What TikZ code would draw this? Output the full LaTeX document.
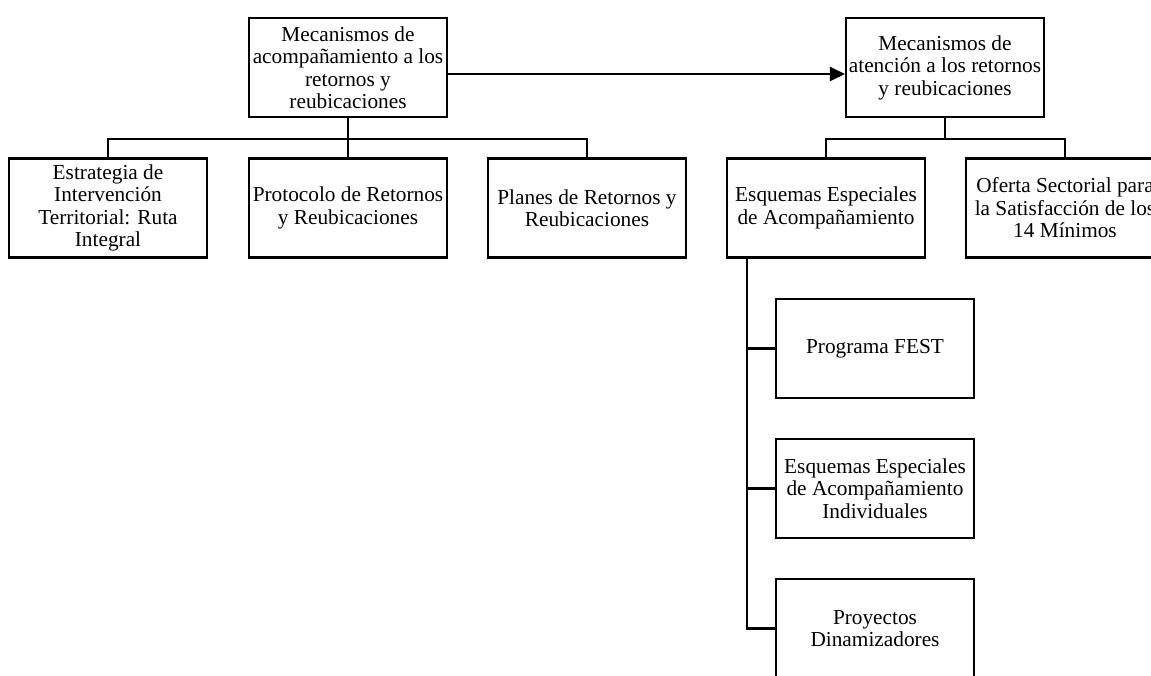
\documentclass[tikz,border=0pt]{standalone}
\usepackage{fontspec}
\setmainfont{Liberation Serif}
\usepackage{tikz}
\usetikzlibrary{arrows.meta}

\begin{document}
\begin{tikzpicture}[x=1pt,y=-1pt,
  caja/.style={draw,line width=2.1pt,minimum width=198pt,minimum height=99pt,
    inner sep=1pt,align=center,font=\fontsize{21.3}{22.5}\selectfont},
  rama/.style={line width=2.1pt}]
\clip (0,0) rectangle (1151,675);

\node [caja] (acomp) at (348,67.5) {Mecanismos de\\acompañamiento a los\\retornos y\\reubicaciones};
\node [caja] (atencion) at (945,67.5) {Mecanismos de\\atención a los retornos\\y reubicaciones};

\node [caja] (estrategia) at (108,208) {Estrategia de\\Intervención\\Territorial: Ruta\\Integral};
\node [caja] (protocolo) at (348,208) {Protocolo de Retornos\\y Reubicaciones};
\node [caja] (planes) at (587,208) {Planes de Retornos y\\Reubicaciones};
\node [caja] (esquemas) at (826,208) {Esquemas Especiales\\de Acompañamiento};
\node [caja] (oferta) at (1065,208) {Oferta Sectorial para\\la Satisfacción de los\\14 Mínimos};

\node [caja] (fest) at (875,348.5) {Programa FEST};
\node [caja] (individuales) at (875,488.5) {Esquemas Especiales\\de Acompañamiento\\Individuales};
\node [caja] (proyectos) at (875,628.5) {Proyectos\\Dinamizadores};

\draw [rama,-{Triangle[length=15pt,width=14pt]}] ([yshift=-6.5pt]acomp.east) -- ([yshift=-6.5pt]atencion.west);

\foreach \hijo in {estrategia,protocolo,planes}
  \draw [rama] (acomp.south) -- ++(0,21) -| (\hijo.north);
\foreach \hijo in {esquemas,oferta}
  \draw [rama] (atencion.south) -- ++(0,21) -| (\hijo.north);
\foreach \hijo in {fest,individuales,proyectos}
  \draw [rama] ([xshift=-79pt]esquemas.south) |- (\hijo.west);
\end{tikzpicture}
\end{document}
